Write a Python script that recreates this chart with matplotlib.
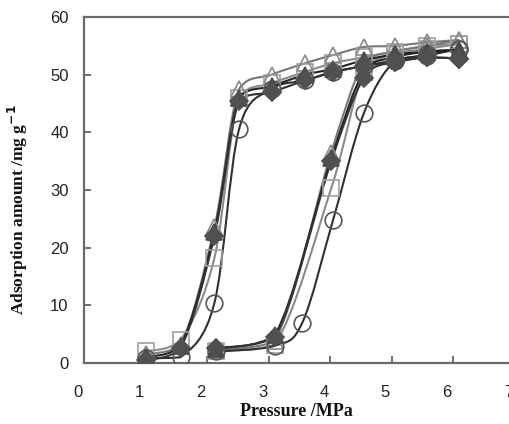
import numpy as np
import matplotlib.pyplot as plt
from matplotlib.path import Path
from matplotlib.patches import PathPatch
from matplotlib.transforms import ScaledTranslation

# adsorption branch (pressure going up)
ads_p = [2.15, 3.1, 4.02, 4.55, 5.05, 5.58, 6.1]
ads_p_circle = [2.15, 3.1, 3.55, 4.05, 4.55, 5.05, 5.58, 6.1]
# desorption branch (pressure going down)
des_p = [6.1, 5.58, 5.05, 4.55, 4.05, 3.6, 3.05, 2.52, 2.12, 1.57, 1.0]

ads_circle = [2.0, 3.0, 7.0, 24.8, 43.3, 52.3, 53.3, 54.5]
des_circle = [54.5, 53.5, 52.5, 51.5, 50.5, 49.0, 47.5, 40.5, 10.4, 1.0, 0.8]

ads_square = [2.0, 3.2, 30.3, 50.5, 53.5, 54.5, 55.3]
des_square = [55.3, 55.0, 54.0, 53.0, 52.0, 50.5, 48.5, 46.0, 18.2, 4.0, 2.0]

ads_tri_open = [2.3, 3.8, 36.5, 52.0, 54.0, 55.0, 56.0]
des_tri_open = [56.0, 55.6, 55.0, 54.8, 53.4, 52.0, 50.0, 47.5, 23.5, 3.2, 1.5]

ads_tri_fill = [2.5, 4.8, 35.5, 50.5, 53.0, 54.0, 54.3]
des_tri_fill = [54.3, 54.0, 53.5, 52.5, 51.0, 50.0, 48.0, 46.0, 22.7, 3.0, 1.0]

ads_diamond = [2.6, 4.5, 35.0, 49.4, 52.2, 53.0, 52.8]
des_diamond = [52.8, 53.0, 52.2, 51.5, 50.4, 49.0, 47.0, 45.5, 22.0, 2.6, 0.5]


def smooth_path(xs, ys):
    # smoothed line, drawn as bezier curves through the points
    # (control points kept inside each segment's y range so it doesn't overshoot)
    pts = np.column_stack([xs, ys])
    verts = [pts[0]]
    codes = [Path.MOVETO]
    n = len(pts)
    for i in range(n - 1):
        p0 = pts[i - 1] if i > 0 else pts[i]
        p1 = pts[i]
        p2 = pts[i + 1]
        p3 = pts[i + 2] if i + 2 < n else pts[i + 1]
        c1 = p1 + (p2 - p0) / 6.0
        c2 = p2 - (p3 - p1) / 6.0
        lo, hi = min(p1[1], p2[1]), max(p1[1], p2[1])
        c1[1] = np.clip(c1[1], lo, hi)
        c2[1] = np.clip(c2[1], lo, hi)
        verts += [c1, c2, p2]
        codes += [Path.CURVE4] * 3
    return Path(verts, codes)


fig = plt.figure(figsize=(5.09, 4.24), dpi=100)
ax = fig.add_axes([84 / 509, 61 / 424, 430.5 / 509, 346 / 424])

series = [
    (ads_p, ads_square, des_square, 's', 'none', '#a0a0a0', '#8a8a8a', 11),
    (ads_p, ads_tri_open, des_tri_open, '^', 'none', '#8a8a8a', '#777777', 12),
    (ads_p_circle, ads_circle, des_circle, 'o', 'none', '#555555', '#303030', 12),
    (ads_p, ads_tri_fill, des_tri_fill, '^', '#4a4a4a', '#4a4a4a', '#222222', 11),
    (ads_p, ads_diamond, des_diamond, 'D', '#505050', '#505050', '#333333', 9),
]

for a_p, ads, des, mk, fc, ec, lc, ms in series:
    for px, vals in ((a_p, ads), (des_p, des)):
        ax.add_patch(PathPatch(smooth_path(px, vals), facecolor='none',
                               edgecolor=lc, lw=1.5, zorder=2))
        ax.plot(px, vals, linestyle='none', marker=mk, markersize=ms,
                markerfacecolor=fc, markeredgecolor=ec, markeredgewidth=1.2,
                zorder=3)

ax.set_xlim(0, 7)
ax.set_ylim(0, 60)
ax.set_xticks(range(0, 8))
ax.set_yticks(range(0, 61, 10))

for s in ['left', 'bottom', 'top', 'right']:
    ax.spines[s].set_color('#6a6a6a')
    ax.spines[s].set_linewidth(1.6)

ax.tick_params(axis='both', direction='in', length=5, width=1.2,
               color='#555555', labelsize=12, labelcolor='#222222')
ax.tick_params(axis='x', pad=16)
ax.tick_params(axis='y', pad=11)

for lab in ax.get_xticklabels() + ax.get_yticklabels():
    lab.set_family('Liberation Sans')
# x tick labels sit a little left of their ticks in the original
offset = ScaledTranslation(-6 / 100, 0, fig.dpi_scale_trans)
for lab in ax.get_xticklabels():
    lab.set_transform(lab.get_transform() + offset)

fig.text(296 / 509, 1 - 412 / 424, 'Pressure /MPa', ha='center', va='center',
         family='Liberation Serif', weight='bold', fontsize=13, color='#111111')
fig.text(18 / 509, 1 - 210 / 424, 'Adsorption amount /mg g$^{\\mathbf{-1}}$',
         ha='center', va='center', rotation=90, family='Liberation Serif',
         weight='bold', fontsize=12.5, color='#111111')

fig.savefig('out.png', dpi=100)
